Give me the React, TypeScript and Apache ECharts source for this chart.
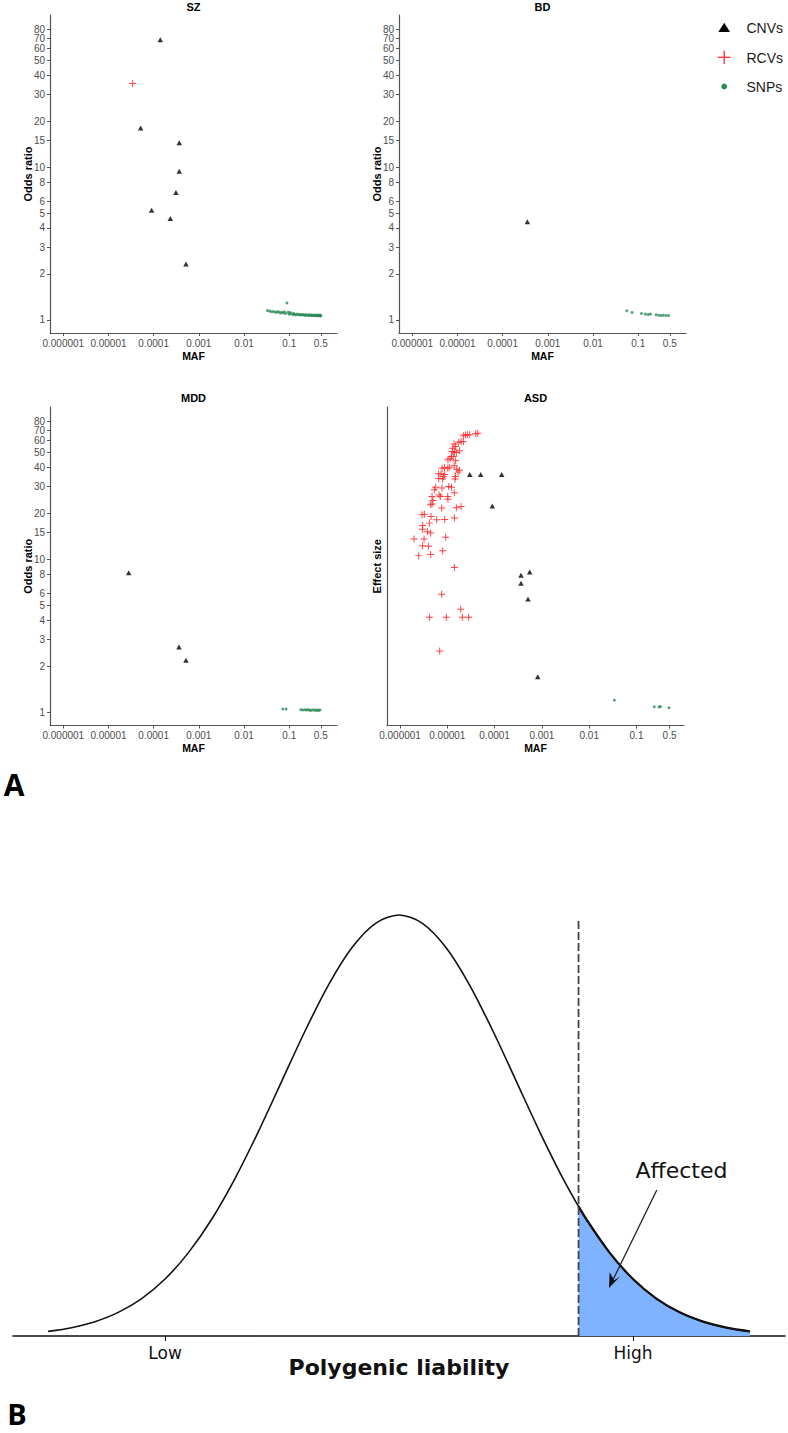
import React, { useEffect, useRef } from 'react';
import * as echarts from 'echarts';

// ---------- Panel A data ----------
const xTickValues = [0.000001, 0.00001, 0.0001, 0.001, 0.01, 0.1, 0.5];
const xTickLabels = ['0.000001', '0.00001', '0.0001', '0.001', '0.01', '0.1', '0.5'];
const yTickValues = [1, 2, 3, 4, 5, 6, 8, 10, 15, 20, 30, 40, 50, 60, 70, 80];
// labels placed on a second, overlapping axis so that neighbouring labels are not auto-hidden
const yTickValuesAlt = [70];

const szCNV = [[1.4e-4, 68.4], [5.15e-5, 18.1], [3.68e-4, 14.45], [3.68e-4, 9.43], [3.11e-4, 6.84], [9.0e-5, 5.23], [2.33e-4, 4.62], [5.19e-4, 2.32]];
const szRCV = [[3.43e-5, 35.4]];
const szSNP = [
  [0.033, 1.15], [0.037, 1.14], [0.041, 1.13], [0.045, 1.135], [0.05, 1.12], [0.054, 1.125], [0.058, 1.13], [0.063, 1.11],
  [0.068, 1.12], [0.073, 1.11], [0.078, 1.13], [0.083, 1.1], [0.089, 1.29], [0.094, 1.12], [0.1, 1.09], [0.105, 1.115],
  [0.11, 1.1], [0.12, 1.08], [0.125, 1.1], [0.13, 1.09], [0.14, 1.075], [0.15, 1.09], [0.16, 1.08], [0.17, 1.085],
  [0.18, 1.075], [0.19, 1.08], [0.2, 1.085], [0.21, 1.075], [0.22, 1.07], [0.23, 1.08], [0.24, 1.075], [0.26, 1.07],
  [0.27, 1.08], [0.28, 1.07], [0.3, 1.075], [0.31, 1.07], [0.32, 1.065], [0.34, 1.075], [0.35, 1.07], [0.37, 1.065],
  [0.38, 1.07], [0.4, 1.075], [0.41, 1.065], [0.43, 1.07], [0.44, 1.065], [0.46, 1.07], [0.47, 1.075], [0.48, 1.065],
  [0.49, 1.06], [0.5, 1.07],
];
const bdCNV = [[3.52e-4, 4.39]];
const bdSNP = [[0.0557, 1.146], [0.073, 1.118], [0.118, 1.101], [0.144, 1.09], [0.166, 1.085], [0.186, 1.09], [0.248, 1.08], [0.284, 1.073], [0.32, 1.068], [0.36, 1.073], [0.413, 1.068], [0.471, 1.068]];
const mddCNV = [[2.8e-5, 8.2], [3.63e-4, 2.68], [5.19e-4, 2.19]];
const mddSNP = [[0.072, 1.05], [0.085, 1.05], [0.18, 1.04], [0.2, 1.035], [0.22, 1.04], [0.24, 1.035], [0.26, 1.04], [0.28, 1.035], [0.3, 1.03], [0.33, 1.035], [0.36, 1.035], [0.39, 1.03], [0.42, 1.035], [0.45, 1.03], [0.48, 1.035]];
const asdCNV = [[2.98e-5, 36.0], [5.08e-5, 36.0], [1.41e-4, 36.0], [8.93e-5, 22.4], [3.61e-4, 7.89], [5.52e-4, 8.29], [3.61e-4, 7.0], [5.08e-4, 5.52], [8.15e-4, 1.71]];
const asdRCV = [
  [4.4e-5, 67.1], [4.0e-5, 66.5], [2.97e-5, 65.5], [2.65e-5, 65.5], [2.4e-5, 65.2], [2.18e-5, 64.5],
  [1.39e-5, 56.9], [1.74e-5, 58.6], [1.95e-5, 59.2], [2.18e-5, 58.9],
  [1.3e-5, 53.5], [1.48e-5, 54.9], [1.8e-5, 51.4], [1.41e-5, 50.4], [1.26e-5, 50.9], [1.55e-5, 50.1],
  [1.14e-5, 45.6], [1.22e-5, 47.2], [1.03e-5, 44.9], [1.34e-5, 47.2], [1.5e-5, 44.2],
  [7.73e-6, 39.6], [8.65e-6, 40.0], [1.02e-5, 39.6], [1.1e-5, 40.2], [1.39e-5, 41.0], [1.58e-5, 39.0], [1.8e-5, 38.4], [1.68e-5, 37.3],
  [6.57e-6, 36.4], [7.36e-6, 36.2], [8.25e-6, 34.9], [8.8e-6, 36.0], [7.98e-6, 33.6], [1.48e-5, 34.9], [1.45e-5, 33.6], [6.57e-6, 33.9],
  [5.68e-6, 29.7], [5.32e-6, 28.6], [7.73e-6, 29.4], [1.07e-5, 30.0], [1.22e-5, 29.7], [1.41e-5, 27.3],
  [4.75e-6, 25.8], [4.98e-6, 24.3], [6.68e-6, 26.4], [7.12e-6, 25.8], [1.02e-5, 25.8], [1.03e-5, 24.8],
  [7.6e-6, 21.7], [4.45e-6, 22.8], [4.75e-6, 23.1], [1.55e-5, 21.8], [1.95e-5, 22.2],
  [2.92e-6, 19.6], [3.27e-6, 19.8], [4.52e-6, 19.1], [5.96e-6, 18.2], [8.8e-6, 18.3], [1.41e-5, 18.7],
  [3.01e-6, 16.7], [4.17e-6, 17.3], [2.97e-6, 15.8], [3.78e-6, 15.2], [4.45e-6, 14.9],
  [1.98e-6, 13.6], [3.22e-6, 13.6], [9.24e-6, 14.0],
  [3.01e-6, 12.3], [3.97e-6, 12.2], [7.98e-6, 11.4],
  [2.48e-6, 10.6], [4.45e-6, 10.8],
  [1.41e-5, 8.86], [7.6e-6, 5.92], [1.92e-5, 4.72],
  [4.17e-6, 4.19], [9.54e-6, 4.19], [2.08e-5, 4.19], [2.83e-5, 4.19],
  [6.9e-6, 2.52],
];
const asdSNP = [[0.034, 1.2], [0.238, 1.088], [0.3, 1.083], [0.32, 1.09], [0.487, 1.072]];

// ---------- Panel B data ----------
const liabilityX = [-3, -2.8, -2.6, -2.4, -2.2, -2, -1.8, -1.6, -1.4, -1.2, -1, -0.8, -0.6, -0.4, -0.2, 0, 0.2, 0.4, 0.6, 0.8, 1, 1.2, 1.4, 1.6, 1.8, 2, 2.2, 2.4, 2.6, 2.8, 3];
const liabilityDensity = [0.0044, 0.0079, 0.0136, 0.0224, 0.0355, 0.054, 0.079, 0.1109, 0.1497, 0.1942, 0.242, 0.2897, 0.3332, 0.3683, 0.391, 0.3989, 0.391, 0.3683, 0.3332, 0.2897, 0.242, 0.1942, 0.1497, 0.1109, 0.079, 0.054, 0.0355, 0.0224, 0.0136, 0.0079, 0.0044];
const affectedX = [1.535, 1.6, 1.8, 2, 2.2, 2.4, 2.6, 2.8, 3];
const affectedDensity = [0.1228, 0.1109, 0.079, 0.054, 0.0355, 0.0224, 0.0136, 0.0079, 0.0044];
const thresholdX = 1.535;
const thresholdTop = 0.394;
const liabilityTicks = [-2, 2];
const liabilityTickLabels = ['Low', 'High'];

const FONT = '"Liberation Sans", Arial, Helvetica, sans-serif';
const FONT_B = '"DejaVu Sans", sans-serif';
const AXIS_GREY = '#4d4d4d';
const CROSS = 'path://M4.3,0H5.7V4.3H10V5.7H5.7V10H4.3V5.7H0V4.3H4.3Z';
const CNV_COLOR = '#000000';
const RCV_COLOR = '#ff2e2e';
const SNP_COLOR = '#2e8b57';
const Y_MIN = 0.82;
const Y_MAX = 99.5;

function xLabel(v: number): string {
  let best = 0;
  let bd = Infinity;
  xTickValues.forEach((t, i) => {
    const d = Math.abs(Math.log10(v) - Math.log10(t));
    if (d < bd) { bd = d; best = i; }
  });
  return xTickLabels[best];
}

function makeXAxis(gridIndex: number, min: number, max: number) {
  return {
    type: 'log', logBase: 10, gridIndex, min, max,
    name: 'MAF', nameLocation: 'middle', nameGap: 17, nameMoveOverlap: false,
    nameTextStyle: { fontFamily: FONT, fontWeight: 'bold', fontSize: 10.5, color: '#000' },
    axisLine: { show: true, onZero: false, lineStyle: { color: '#555', width: 1.2 } },
    axisTick: { show: true, customValues: xTickValues, length: 3, lineStyle: { color: '#555', width: 1 } },
    axisLabel: {
      show: true, customValues: xTickValues, formatter: (v: number) => xLabel(v),
      fontSize: 10, color: AXIS_GREY, fontFamily: FONT, margin: 5, hideOverlap: false,
      showMinLabel: true, showMaxLabel: true,
    },
    splitLine: { show: false }, minorTick: { show: false }, minorSplitLine: { show: false },
  };
}

const yLabelStyle = {
  formatter: (v: number) => String(Math.round(v)),
  fontSize: 10, color: AXIS_GREY, fontFamily: FONT, margin: 5, hideOverlap: false,
  showMinLabel: true, showMaxLabel: true,
};

function makeYAxis(gridIndex: number, name: string, showLabels: boolean, nameGap: number) {
  return {
    type: 'log', logBase: 10, gridIndex, min: Y_MIN, max: Y_MAX, position: 'left',
    name, nameLocation: 'middle', nameGap, nameMoveOverlap: false,
    nameTextStyle: { fontFamily: FONT, fontWeight: 'bold', fontSize: 11, color: '#000' },
    axisLine: { show: true, onZero: false, lineStyle: { color: '#555', width: 1.2 } },
    axisTick: { show: showLabels, customValues: yTickValues, length: 3, lineStyle: { color: '#555', width: 1 } },
    axisLabel: { show: showLabels, customValues: yTickValues.filter(v => !yTickValuesAlt.includes(v)), ...yLabelStyle },
    splitLine: { show: false }, minorTick: { show: false }, minorSplitLine: { show: false },
  };
}

function makeAltYAxis(gridIndex: number) {
  return {
    type: 'log', logBase: 10, gridIndex, min: Y_MIN, max: Y_MAX, position: 'left', offset: 0,
    axisLine: { show: false }, axisTick: { show: false },
    axisLabel: { show: true, customValues: yTickValuesAlt, ...yLabelStyle },
    splitLine: { show: false }, minorTick: { show: false }, minorSplitLine: { show: false },
  };
}

function scatter(kind: 'CNVs' | 'RCVs' | 'SNPs', data: number[][], idx: number) {
  const base: any = { type: 'scatter', name: kind, data, xAxisIndex: idx, yAxisIndex: idx, silent: true };
  if (kind === 'CNVs') return { ...base, symbol: 'triangle', symbolSize: [5.5, 5], itemStyle: { color: CNV_COLOR }, z: 3 };
  if (kind === 'RCVs') return { ...base, symbol: CROSS, symbolSize: 7, itemStyle: { color: RCV_COLOR, opacity: 0.9 }, z: 2 };
  return { ...base, symbol: 'circle', symbolSize: 3, itemStyle: { color: SNP_COLOR }, z: 4 };
}

function panelTitle(text: string, x: number, y: number) {
  return {
    text, left: x, top: y, textAlign: 'center', padding: 0,
    textStyle: { fontFamily: FONT, fontWeight: 'bold', fontSize: 11, color: '#000' },
  };
}

function buildOption() {
  const grids = [
    { left: 50, top: 15, width: 287, height: 318 },
    { left: 399, top: 15, width: 287, height: 318 },
    { left: 50, top: 407, width: 287, height: 318.5 },
    { left: 387, top: 407, width: 297, height: 318.5 },
    { left: 13, top: 900, width: 772, height: 436 },
  ].map(g => ({ ...g, containLabel: false, outerBoundsMode: 'none' }));

  const xAxes: any[] = [
    makeXAxis(0, 5.08e-7, 1.14),
    makeXAxis(1, 5.08e-7, 1.14),
    makeXAxis(2, 5.08e-7, 1.14),
    makeXAxis(3, 5.3e-7, 1.01),
    {
      type: 'value', gridIndex: 4, min: -3.3, max: 3.3,
      name: 'Polygenic liability', nameLocation: 'middle', nameGap: 20, nameMoveOverlap: false,
      nameTextStyle: { fontFamily: FONT_B, fontWeight: 'bold', fontSize: 22, color: '#111' },
      axisLine: { show: true, lineStyle: { color: '#111', width: 1.6 } },
      axisTick: { show: true, customValues: liabilityTicks, length: 5, lineStyle: { color: '#111', width: 1 } },
      axisLabel: {
        show: true, customValues: liabilityTicks,
        formatter: (v: number) => liabilityTickLabels[liabilityTicks.indexOf(Math.round(v))] ?? '',
        fontFamily: FONT_B, fontSize: 17, color: '#111', margin: 8,
        showMinLabel: true, showMaxLabel: true,
      },
      splitLine: { show: false },
    },
  ];
  const yAxes: any[] = [
    makeYAxis(0, 'Odds ratio', true, 17),
    makeYAxis(1, 'Odds ratio', true, 17),
    makeYAxis(2, 'Odds ratio', true, 17),
    makeYAxis(3, 'Effect size', false, 5),
    { type: 'value', gridIndex: 4, min: 0, max: 0.4131, show: false },
    makeAltYAxis(0),
    makeAltYAxis(1),
    makeAltYAxis(2),
  ];

  const series: any[] = [
    scatter('CNVs', szCNV, 0), scatter('RCVs', szRCV, 0), scatter('SNPs', szSNP, 0),
    scatter('CNVs', bdCNV, 1), scatter('SNPs', bdSNP, 1),
    scatter('CNVs', mddCNV, 2), scatter('SNPs', mddSNP, 2),
    scatter('RCVs', asdRCV, 3), scatter('CNVs', asdCNV, 3), scatter('SNPs', asdSNP, 3),
    {
      type: 'line', name: 'Liability', xAxisIndex: 4, yAxisIndex: 4, smooth: 0.3, symbol: 'none', silent: true,
      data: liabilityX.map((x, i) => [x, liabilityDensity[i]]),
      lineStyle: { color: '#111', width: 1.6 }, z: 3,
    },
    {
      type: 'line', name: 'Affected', xAxisIndex: 4, yAxisIndex: 4, smooth: 0.3, symbol: 'none', silent: true,
      data: affectedX.map((x, i) => [x, affectedDensity[i]]),
      lineStyle: { color: '#111', width: 2.2 },
      areaStyle: { color: '#80b3ff', opacity: 1 }, z: 2,
    },
    {
      type: 'line', name: 'Threshold', xAxisIndex: 4, yAxisIndex: 4, symbol: 'none', silent: true,
      data: [[thresholdX, 0], [thresholdX, thresholdTop]],
      lineStyle: { color: '#444', width: 1.8, type: [8, 3] }, z: 4,
    },
  ];

  const legendItems = [
    { type: 'polygon', shape: { points: [[724.2, 22.7], [730, 32], [718.4, 32]] }, style: { fill: CNV_COLOR } },
    { type: 'line', shape: { x1: 717.7, y1: 57.3, x2: 730.7, y2: 57.3 }, style: { stroke: RCV_COLOR, lineWidth: 1.3 } },
    { type: 'line', shape: { x1: 724.2, y1: 50.7, x2: 724.2, y2: 64 }, style: { stroke: RCV_COLOR, lineWidth: 1.3 } },
    { type: 'circle', shape: { cx: 724.2, cy: 86.5, r: 2.9 }, style: { fill: SNP_COLOR } },
    { type: 'text', x: 746.5, y: 28, style: { text: 'CNVs', fontFamily: FONT, fontSize: 14, fill: '#1a1a1a', align: 'left', verticalAlign: 'middle' } },
    { type: 'text', x: 746.5, y: 57.5, style: { text: 'RCVs', fontFamily: FONT, fontSize: 14, fill: '#1a1a1a', align: 'left', verticalAlign: 'middle' } },
    { type: 'text', x: 746.5, y: 87, style: { text: 'SNPs', fontFamily: FONT, fontSize: 14, fill: '#1a1a1a', align: 'left', verticalAlign: 'middle' } },
  ];

  const graphic = [
    ...legendItems,
    { type: 'text', x: 14, y: 784, style: { text: 'A', fontFamily: '"Open Sans", sans-serif', fontWeight: 'bold', fontSize: 30, fill: '#000', align: 'center', verticalAlign: 'middle' } },
    { type: 'text', x: 17, y: 1413, style: { text: 'B', fontFamily: '"Open Sans", sans-serif', fontWeight: 'bold', fontSize: 29, fill: '#000', align: 'center', verticalAlign: 'middle' } },
    { type: 'text', x: 681.5, y: 1170, style: { text: 'Affected', fontFamily: FONT_B, fontSize: 22, fill: '#111', align: 'center', verticalAlign: 'middle' } },
    { type: 'line', shape: { x1: 656.8, y1: 1190, x2: 613.4, y2: 1279 }, style: { stroke: '#222', lineWidth: 1.3 } },
    { type: 'polygon', shape: { points: [[609, 1288], [620.3, 1276.2], [614.3, 1280.2], [609.6, 1272.2]] }, style: { fill: '#111' } },
  ].map((g: any) => ({ z: 100, ...g }));

  return {
    animation: false,
    backgroundColor: '#ffffff',
    title: [
      panelTitle('SZ', 193.5, 1.5),
      panelTitle('BD', 542.5, 1.5),
      panelTitle('MDD', 193.5, 392.8),
      panelTitle('ASD', 535.5, 392.8),
    ],
    grid: grids,
    xAxis: xAxes,
    yAxis: yAxes,
    series,
    graphic,
  };
}

export default function App() {
  const ref = useRef<HTMLDivElement>(null);
  useEffect(() => {
    if (!ref.current) return;
    const chart = echarts.init(ref.current, null, { renderer: 'svg' });
    chart.setOption(buildOption() as any);
    return () => chart.dispose();
  }, []);
  return (
    <div
      ref={ref}
      style={{ position: 'absolute', left: 0, top: 0, width: 788, height: 1433, background: '#fff' }}
    />
  );
}
